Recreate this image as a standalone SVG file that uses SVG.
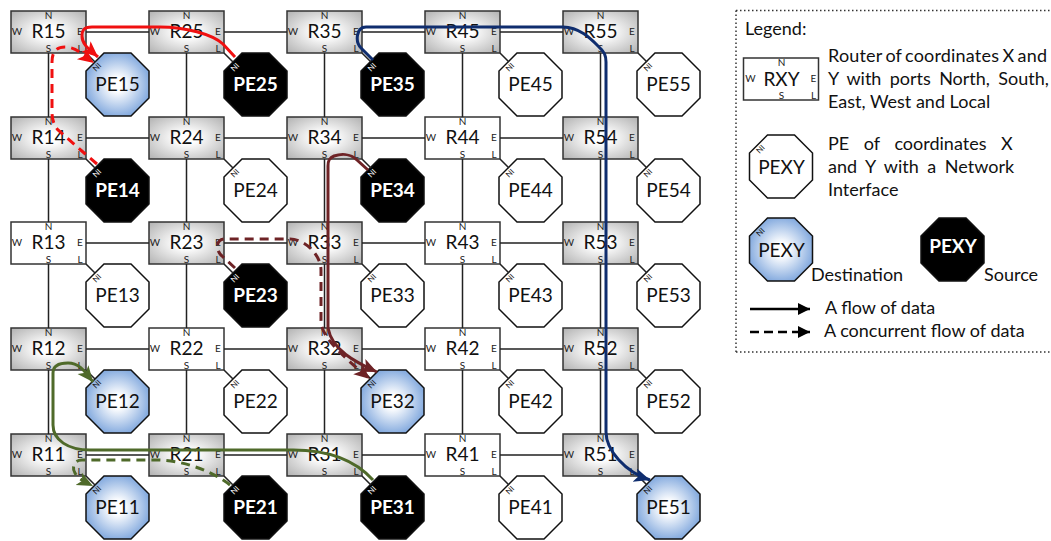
<svg xmlns="http://www.w3.org/2000/svg" width="1051" height="541" viewBox="0 0 1051 541">
<style>
text{font-family:Lato,"Open Sans",sans-serif;fill:#111}
.p{font-size:10px;text-anchor:middle;fill:#222}
.r{font-size:19px;text-anchor:middle}
.o{font-size:19px;text-anchor:middle}
.ni{font-size:8px;text-anchor:middle}
.t{font-size:18px}
rect{stroke:#333;stroke-width:1.5}
.g{fill:url(#gr)}
.w{fill:#fff}
polygon{stroke:#111;stroke-width:1.5}
.pw{fill:#fff}
.pb{fill:url(#bl)}
.pk{fill:#000}
.k text{fill:#fff}
.k .o{font-weight:700}
.l{fill:none;stroke:#222;stroke-width:1.5}
.f{fill:none}
</style>
<defs>
<radialGradient id="gr" cx="50%" cy="50%" r="68%"><stop offset="0.2" stop-color="#fff"/><stop offset="1" stop-color="#b4b4b4"/></radialGradient>
<radialGradient id="bl" cx="50%" cy="50%" r="55%"><stop offset="0.2" stop-color="#fff"/><stop offset="1" stop-color="#7ba4dc"/></radialGradient>
<marker id="aR" markerUnits="userSpaceOnUse" markerWidth="20" markerHeight="16" refX="16" refY="7" orient="auto"><path d="M0,0 L16,7 L0,14 L4,7z" fill="#f01010"/></marker>
<marker id="aB" markerUnits="userSpaceOnUse" markerWidth="20" markerHeight="16" refX="16" refY="7" orient="auto"><path d="M0,0 L16,7 L0,14 L4,7z" fill="#0f2d6e"/></marker>
<marker id="aM" markerUnits="userSpaceOnUse" markerWidth="20" markerHeight="16" refX="16" refY="7" orient="auto"><path d="M0,0 L16,7 L0,14 L4,7z" fill="#6e2326"/></marker>
<marker id="aG" markerUnits="userSpaceOnUse" markerWidth="20" markerHeight="16" refX="16" refY="7" orient="auto"><path d="M0,0 L16,7 L0,14 L4,7z" fill="#4f6a2a"/></marker>
<marker id="aK" markerUnits="userSpaceOnUse" markerWidth="16" markerHeight="14" refX="12" refY="6" orient="auto"><path d="M0,0 L12,6 L0,12z" fill="#000"/></marker>
</defs>
<g id="R15" transform="translate(11,11)"><rect class="g" width="75" height="42"/><text class="p" x="37.5" y="8">N</text><text class="p" x="6" y="24">W</text><text class="p" x="69" y="24">E</text><text class="p" x="37.5" y="41">S</text><text class="p" x="69" y="41">L</text><text class="r" x="37.5" y="27">R15</text></g>
<g id="R25" transform="translate(149,11)"><rect class="g" width="75" height="42"/><text class="p" x="37.5" y="8">N</text><text class="p" x="6" y="24">W</text><text class="p" x="69" y="24">E</text><text class="p" x="37.5" y="41">S</text><text class="p" x="69" y="41">L</text><text class="r" x="37.5" y="27">R25</text></g>
<g id="R35" transform="translate(287,11)"><rect class="g" width="75" height="42"/><text class="p" x="37.5" y="8">N</text><text class="p" x="6" y="24">W</text><text class="p" x="69" y="24">E</text><text class="p" x="37.5" y="41">S</text><text class="p" x="69" y="41">L</text><text class="r" x="37.5" y="27">R35</text></g>
<g id="R45" transform="translate(425,11)"><rect class="g" width="75" height="42"/><text class="p" x="37.5" y="8">N</text><text class="p" x="6" y="24">W</text><text class="p" x="69" y="24">E</text><text class="p" x="37.5" y="41">S</text><text class="p" x="69" y="41">L</text><text class="r" x="37.5" y="27">R45</text></g>
<g id="R55" transform="translate(563,11)"><rect class="g" width="75" height="42"/><text class="p" x="37.5" y="8">N</text><text class="p" x="6" y="24">W</text><text class="p" x="69" y="24">E</text><text class="p" x="37.5" y="41">S</text><text class="p" x="69" y="41">L</text><text class="r" x="37.5" y="27">R55</text></g>
<g id="R14" transform="translate(11,117)"><rect class="g" width="75" height="42"/><text class="p" x="37.5" y="8">N</text><text class="p" x="6" y="24">W</text><text class="p" x="69" y="24">E</text><text class="p" x="37.5" y="41">S</text><text class="p" x="69" y="41">L</text><text class="r" x="37.5" y="27">R14</text></g>
<g id="R24" transform="translate(149,117)"><rect class="g" width="75" height="42"/><text class="p" x="37.5" y="8">N</text><text class="p" x="6" y="24">W</text><text class="p" x="69" y="24">E</text><text class="p" x="37.5" y="41">S</text><text class="p" x="69" y="41">L</text><text class="r" x="37.5" y="27">R24</text></g>
<g id="R34" transform="translate(287,117)"><rect class="g" width="75" height="42"/><text class="p" x="37.5" y="8">N</text><text class="p" x="6" y="24">W</text><text class="p" x="69" y="24">E</text><text class="p" x="37.5" y="41">S</text><text class="p" x="69" y="41">L</text><text class="r" x="37.5" y="27">R34</text></g>
<g id="R44" transform="translate(425,117)"><rect class="w" width="75" height="42"/><text class="p" x="37.5" y="8">N</text><text class="p" x="6" y="24">W</text><text class="p" x="69" y="24">E</text><text class="p" x="37.5" y="41">S</text><text class="p" x="69" y="41">L</text><text class="r" x="37.5" y="27">R44</text></g>
<g id="R54" transform="translate(563,117)"><rect class="g" width="75" height="42"/><text class="p" x="37.5" y="8">N</text><text class="p" x="6" y="24">W</text><text class="p" x="69" y="24">E</text><text class="p" x="37.5" y="41">S</text><text class="p" x="69" y="41">L</text><text class="r" x="37.5" y="27">R54</text></g>
<g id="R13" transform="translate(11,222)"><rect class="w" width="75" height="42"/><text class="p" x="37.5" y="8">N</text><text class="p" x="6" y="24">W</text><text class="p" x="69" y="24">E</text><text class="p" x="37.5" y="41">S</text><text class="p" x="69" y="41">L</text><text class="r" x="37.5" y="27">R13</text></g>
<g id="R23" transform="translate(149,222)"><rect class="g" width="75" height="42"/><text class="p" x="37.5" y="8">N</text><text class="p" x="6" y="24">W</text><text class="p" x="69" y="24">E</text><text class="p" x="37.5" y="41">S</text><text class="p" x="69" y="41">L</text><text class="r" x="37.5" y="27">R23</text></g>
<g id="R33" transform="translate(287,222)"><rect class="g" width="75" height="42"/><text class="p" x="37.5" y="8">N</text><text class="p" x="6" y="24">W</text><text class="p" x="69" y="24">E</text><text class="p" x="37.5" y="41">S</text><text class="p" x="69" y="41">L</text><text class="r" x="37.5" y="27">R33</text></g>
<g id="R43" transform="translate(425,222)"><rect class="w" width="75" height="42"/><text class="p" x="37.5" y="8">N</text><text class="p" x="6" y="24">W</text><text class="p" x="69" y="24">E</text><text class="p" x="37.5" y="41">S</text><text class="p" x="69" y="41">L</text><text class="r" x="37.5" y="27">R43</text></g>
<g id="R53" transform="translate(563,222)"><rect class="g" width="75" height="42"/><text class="p" x="37.5" y="8">N</text><text class="p" x="6" y="24">W</text><text class="p" x="69" y="24">E</text><text class="p" x="37.5" y="41">S</text><text class="p" x="69" y="41">L</text><text class="r" x="37.5" y="27">R53</text></g>
<g id="R12" transform="translate(11,328)"><rect class="g" width="75" height="42"/><text class="p" x="37.5" y="8">N</text><text class="p" x="6" y="24">W</text><text class="p" x="69" y="24">E</text><text class="p" x="37.5" y="41">S</text><text class="p" x="69" y="41">L</text><text class="r" x="37.5" y="27">R12</text></g>
<g id="R22" transform="translate(149,328)"><rect class="w" width="75" height="42"/><text class="p" x="37.5" y="8">N</text><text class="p" x="6" y="24">W</text><text class="p" x="69" y="24">E</text><text class="p" x="37.5" y="41">S</text><text class="p" x="69" y="41">L</text><text class="r" x="37.5" y="27">R22</text></g>
<g id="R32" transform="translate(287,328)"><rect class="g" width="75" height="42"/><text class="p" x="37.5" y="8">N</text><text class="p" x="6" y="24">W</text><text class="p" x="69" y="24">E</text><text class="p" x="37.5" y="41">S</text><text class="p" x="69" y="41">L</text><text class="r" x="37.5" y="27">R32</text></g>
<g id="R42" transform="translate(425,328)"><rect class="w" width="75" height="42"/><text class="p" x="37.5" y="8">N</text><text class="p" x="6" y="24">W</text><text class="p" x="69" y="24">E</text><text class="p" x="37.5" y="41">S</text><text class="p" x="69" y="41">L</text><text class="r" x="37.5" y="27">R42</text></g>
<g id="R52" transform="translate(563,328)"><rect class="g" width="75" height="42"/><text class="p" x="37.5" y="8">N</text><text class="p" x="6" y="24">W</text><text class="p" x="69" y="24">E</text><text class="p" x="37.5" y="41">S</text><text class="p" x="69" y="41">L</text><text class="r" x="37.5" y="27">R52</text></g>
<g id="R11" transform="translate(11,434)"><rect class="g" width="75" height="42"/><text class="p" x="37.5" y="8">N</text><text class="p" x="6" y="24">W</text><text class="p" x="69" y="24">E</text><text class="p" x="37.5" y="41">S</text><text class="p" x="69" y="41">L</text><text class="r" x="37.5" y="27">R11</text></g>
<g id="R21" transform="translate(149,434)"><rect class="g" width="75" height="42"/><text class="p" x="37.5" y="8">N</text><text class="p" x="6" y="24">W</text><text class="p" x="69" y="24">E</text><text class="p" x="37.5" y="41">S</text><text class="p" x="69" y="41">L</text><text class="r" x="37.5" y="27">R21</text></g>
<g id="R31" transform="translate(287,434)"><rect class="g" width="75" height="42"/><text class="p" x="37.5" y="8">N</text><text class="p" x="6" y="24">W</text><text class="p" x="69" y="24">E</text><text class="p" x="37.5" y="41">S</text><text class="p" x="69" y="41">L</text><text class="r" x="37.5" y="27">R31</text></g>
<g id="R41" transform="translate(425,434)"><rect class="w" width="75" height="42"/><text class="p" x="37.5" y="8">N</text><text class="p" x="6" y="24">W</text><text class="p" x="69" y="24">E</text><text class="p" x="37.5" y="41">S</text><text class="p" x="69" y="41">L</text><text class="r" x="37.5" y="27">R41</text></g>
<g id="R51" transform="translate(563,434)"><rect class="g" width="75" height="42"/><text class="p" x="37.5" y="8">N</text><text class="p" x="6" y="24">W</text><text class="p" x="69" y="24">E</text><text class="p" x="37.5" y="41">S</text><text class="p" x="69" y="41">L</text><text class="r" x="37.5" y="27">R51</text></g>

<g id="PE15" transform="translate(86,53)"><polygon class="pb" points="18,0 45,0 63,18 63,45 45,63 18,63 0,45 0,18"/><text class="ni" transform="translate(13,16) rotate(-45)">NI</text><text class="o" x="31.5" y="38">PE15</text></g>
<g id="PE25" class="k" transform="translate(224,53)"><polygon class="pk" points="18,0 45,0 63,18 63,45 45,63 18,63 0,45 0,18"/><text class="ni" transform="translate(13,16) rotate(-45)">NI</text><text class="o" x="31.5" y="38">PE25</text></g>
<g id="PE35" class="k" transform="translate(361,53)"><polygon class="pk" points="18,0 45,0 63,18 63,45 45,63 18,63 0,45 0,18"/><text class="ni" transform="translate(13,16) rotate(-45)">NI</text><text class="o" x="31.5" y="38">PE35</text></g>
<g id="PE45" transform="translate(499,53)"><polygon class="pw" points="18,0 45,0 63,18 63,45 45,63 18,63 0,45 0,18"/><text class="ni" transform="translate(13,16) rotate(-45)">NI</text><text class="o" x="31.5" y="38">PE45</text></g>
<g id="PE55" transform="translate(637,53)"><polygon class="pw" points="18,0 45,0 63,18 63,45 45,63 18,63 0,45 0,18"/><text class="ni" transform="translate(13,16) rotate(-45)">NI</text><text class="o" x="31.5" y="38">PE55</text></g>
<g id="PE14" class="k" transform="translate(86,159)"><polygon class="pk" points="18,0 45,0 63,18 63,45 45,63 18,63 0,45 0,18"/><text class="ni" transform="translate(13,16) rotate(-45)">NI</text><text class="o" x="31.5" y="38">PE14</text></g>
<g id="PE24" transform="translate(224,159)"><polygon class="pw" points="18,0 45,0 63,18 63,45 45,63 18,63 0,45 0,18"/><text class="ni" transform="translate(13,16) rotate(-45)">NI</text><text class="o" x="31.5" y="38">PE24</text></g>
<g id="PE34" class="k" transform="translate(361,159)"><polygon class="pk" points="18,0 45,0 63,18 63,45 45,63 18,63 0,45 0,18"/><text class="ni" transform="translate(13,16) rotate(-45)">NI</text><text class="o" x="31.5" y="38">PE34</text></g>
<g id="PE44" transform="translate(499,159)"><polygon class="pw" points="18,0 45,0 63,18 63,45 45,63 18,63 0,45 0,18"/><text class="ni" transform="translate(13,16) rotate(-45)">NI</text><text class="o" x="31.5" y="38">PE44</text></g>
<g id="PE54" transform="translate(637,159)"><polygon class="pw" points="18,0 45,0 63,18 63,45 45,63 18,63 0,45 0,18"/><text class="ni" transform="translate(13,16) rotate(-45)">NI</text><text class="o" x="31.5" y="38">PE54</text></g>
<g id="PE13" transform="translate(86,264)"><polygon class="pw" points="18,0 45,0 63,18 63,45 45,63 18,63 0,45 0,18"/><text class="ni" transform="translate(13,16) rotate(-45)">NI</text><text class="o" x="31.5" y="38">PE13</text></g>
<g id="PE23" class="k" transform="translate(224,264)"><polygon class="pk" points="18,0 45,0 63,18 63,45 45,63 18,63 0,45 0,18"/><text class="ni" transform="translate(13,16) rotate(-45)">NI</text><text class="o" x="31.5" y="38">PE23</text></g>
<g id="PE33" transform="translate(361,264)"><polygon class="pw" points="18,0 45,0 63,18 63,45 45,63 18,63 0,45 0,18"/><text class="ni" transform="translate(13,16) rotate(-45)">NI</text><text class="o" x="31.5" y="38">PE33</text></g>
<g id="PE43" transform="translate(499,264)"><polygon class="pw" points="18,0 45,0 63,18 63,45 45,63 18,63 0,45 0,18"/><text class="ni" transform="translate(13,16) rotate(-45)">NI</text><text class="o" x="31.5" y="38">PE43</text></g>
<g id="PE53" transform="translate(637,264)"><polygon class="pw" points="18,0 45,0 63,18 63,45 45,63 18,63 0,45 0,18"/><text class="ni" transform="translate(13,16) rotate(-45)">NI</text><text class="o" x="31.5" y="38">PE53</text></g>
<g id="PE12" transform="translate(86,370)"><polygon class="pb" points="18,0 45,0 63,18 63,45 45,63 18,63 0,45 0,18"/><text class="ni" transform="translate(13,16) rotate(-45)">NI</text><text class="o" x="31.5" y="38">PE12</text></g>
<g id="PE22" transform="translate(224,370)"><polygon class="pw" points="18,0 45,0 63,18 63,45 45,63 18,63 0,45 0,18"/><text class="ni" transform="translate(13,16) rotate(-45)">NI</text><text class="o" x="31.5" y="38">PE22</text></g>
<g id="PE32" transform="translate(361,370)"><polygon class="pb" points="18,0 45,0 63,18 63,45 45,63 18,63 0,45 0,18"/><text class="ni" transform="translate(13,16) rotate(-45)">NI</text><text class="o" x="31.5" y="38">PE32</text></g>
<g id="PE42" transform="translate(499,370)"><polygon class="pw" points="18,0 45,0 63,18 63,45 45,63 18,63 0,45 0,18"/><text class="ni" transform="translate(13,16) rotate(-45)">NI</text><text class="o" x="31.5" y="38">PE42</text></g>
<g id="PE52" transform="translate(637,370)"><polygon class="pw" points="18,0 45,0 63,18 63,45 45,63 18,63 0,45 0,18"/><text class="ni" transform="translate(13,16) rotate(-45)">NI</text><text class="o" x="31.5" y="38">PE52</text></g>
<g id="PE11" transform="translate(86,476)"><polygon class="pb" points="18,0 45,0 63,18 63,45 45,63 18,63 0,45 0,18"/><text class="ni" transform="translate(13,16) rotate(-45)">NI</text><text class="o" x="31.5" y="38">PE11</text></g>
<g id="PE21" class="k" transform="translate(224,476)"><polygon class="pk" points="18,0 45,0 63,18 63,45 45,63 18,63 0,45 0,18"/><text class="ni" transform="translate(13,16) rotate(-45)">NI</text><text class="o" x="31.5" y="38">PE21</text></g>
<g id="PE31" class="k" transform="translate(361,476)"><polygon class="pk" points="18,0 45,0 63,18 63,45 45,63 18,63 0,45 0,18"/><text class="ni" transform="translate(13,16) rotate(-45)">NI</text><text class="o" x="31.5" y="38">PE31</text></g>
<g id="PE41" transform="translate(499,476)"><polygon class="pw" points="18,0 45,0 63,18 63,45 45,63 18,63 0,45 0,18"/><text class="ni" transform="translate(13,16) rotate(-45)">NI</text><text class="o" x="31.5" y="38">PE41</text></g>
<g id="PE51" transform="translate(637,476)"><polygon class="pb" points="18,0 45,0 63,18 63,45 45,63 18,63 0,45 0,18"/><text class="ni" transform="translate(13,16) rotate(-45)">NI</text><text class="o" x="31.5" y="38">PE51</text></g>

<g id="connectors">
<path class="l" d="M86,32H149M224,32H287M362,32H425M500,32H563"/>
<path class="l" d="M86,138H149M224,138H287M362,138H425M500,138H563"/>
<path class="l" d="M86,243H149M224,243H287M362,243H425M500,243H563"/>
<path class="l" d="M86,349H149M224,349H287M362,349H425M500,349H563"/>
<path class="l" d="M86,455H149M224,455H287M362,455H425M500,455H563"/>
<path class="l" d="M48.5,53V117M48.5,159V222M48.5,264V328M48.5,370V434"/>
<path class="l" d="M186.5,53V117M186.5,159V222M186.5,264V328M186.5,370V434"/>
<path class="l" d="M324.5,53V117M324.5,159V222M324.5,264V328M324.5,370V434"/>
<path class="l" d="M462.5,53V117M462.5,159V222M462.5,264V328M462.5,370V434"/>
<path class="l" d="M600.5,53V117M600.5,159V222M600.5,264V328M600.5,370V434"/>
<path class="l" d="M86,53l9,9M224,53l9,9M362,53l9,9M500,53l9,9M638,53l9,9"/>
<path class="l" d="M86,159l9,9M224,159l9,9M362,159l9,9M500,159l9,9M638,159l9,9"/>
<path class="l" d="M86,264l9,9M224,264l9,9M362,264l9,9M500,264l9,9M638,264l9,9"/>
<path class="l" d="M86,370l9,9M224,370l9,9M362,370l9,9M500,370l9,9M638,370l9,9"/>
<path class="l" d="M86,476l9,9M224,476l9,9M362,476l9,9M500,476l9,9M638,476l9,9"/>
<path id="flow-red" class="f" stroke="#f01010" stroke-width="3" marker-end="url(#aR)" d="M235,57L223,44C212,34 185,27 160,27H92C83,27 82,31 82,36C82,45 90,50 98,57"/>
<path id="flow-red-dash" class="f" stroke="#f01010" stroke-width="3" stroke-dasharray="9 6" marker-end="url(#aR)" d="M97,164L83,152L58,130C53,124 52,118 52,112V62C52,52 56,47 65,47C76,47 83,55 94,63"/>
<path id="flow-blue" class="f" stroke="#0f2d6e" stroke-width="3" marker-end="url(#aB)" d="M373,60L361,48C355,42 356,27 366,27H563C580,27 592,40 600,48C604,52 606,55 606,62V432C606,450 625,472 650,480"/>
<path id="flow-brown" class="f" stroke="#6e2326" stroke-width="3" marker-end="url(#aM)" d="M368,170L357,160C350,153 340,154 334,156C329,158 328,161 328,166V328C332,350 355,362 377,372"/>
<path id="flow-brown-dash" class="f" stroke="#6e2326" stroke-width="3" stroke-dasharray="9 6" marker-end="url(#aM)" d="M235,268L222,256C215,250 216,239 225,239H290C305,239 321,255 321,270V320C321,335 335,350 370,379"/>
<path id="flow-green" class="f" stroke="#4f6a2a" stroke-width="3" marker-end="url(#aG)" d="M373,480C355,460 330,450 293,450H90C68,450 53,440 53,425V373C53,365 60,363 68,363C80,363 85,372 93,382"/>
<path id="flow-green-dash" class="f" stroke="#4f6a2a" stroke-width="3" stroke-dasharray="9 6" marker-end="url(#aG)" d="M230,485C215,473 185,460 157,460H82C73,460 72,468 75,473C78,479 85,482 93,486"/>
</g>

<g id="legend">
<path d="M736,10.5H1051M736,10.5V352M736,352H1051" fill="none" stroke="#333" stroke-width="1.5" stroke-dasharray="1.5 2.5"/>
<text class="t" x="745" y="35">Legend:</text>
<g id="legend-router" transform="translate(743.5,58)"><rect class="w" width="75" height="42"/><text class="p" x="38" y="7.5">N</text><text class="p" x="7" y="24">W</text><text class="p" x="70" y="24">E</text><text class="p" x="38" y="41">S</text><text class="p" x="70" y="41">L</text><text class="r" x="38" y="27.5">RXY</text></g>
<text class="t" x="828" y="62" word-spacing="-1.5" textLength="219">Router of coordinates X and</text>
<text class="t" x="828" y="85" word-spacing="3.7">Y with ports North, South,</text>
<text class="t" x="828" y="108">East, West and Local</text>
<g id="legend-pe" transform="translate(749.5,135)"><polygon class="pw" points="18,0 45,0 63,18 63,45 45,63 18,63 0,45 0,18"/><text class="ni" transform="translate(13,16) rotate(-45)">NI</text><text class="o" x="32" y="39">PEXY</text></g>
<text class="t" x="828" y="150" word-spacing="10">PE of coordinates X</text>
<text class="t" x="828" y="173" word-spacing="4">and Y with a Network</text>
<text class="t" x="828" y="196">Interface</text>
<g id="legend-dest" transform="translate(749.5,218)"><polygon class="pb" points="18,0 45,0 63,18 63,45 45,63 18,63 0,45 0,18"/><text class="ni" transform="translate(13,16) rotate(-45)">NI</text><text class="o" x="32" y="39">PEXY</text></g>
<text class="t" x="811" y="281">Destination</text>
<g id="legend-src" class="k" transform="translate(921,218)"><polygon class="pk" points="18,0 45,0 63,18 63,45 45,63 18,63 0,45 0,18"/><text class="o" x="32" y="35">PEXY</text></g>
<text class="t" x="984" y="281">Source</text>
<path d="M750,309H810" fill="none" stroke="#000" stroke-width="2.5" marker-end="url(#aK)"/>
<text class="t" x="825" y="314">A flow of data</text>
<path d="M750,332H810" fill="none" stroke="#000" stroke-width="2.5" stroke-dasharray="9 5" marker-end="url(#aK)"/>
<text class="t" x="824" y="337">A concurrent flow of data</text>
</g>
</svg>
